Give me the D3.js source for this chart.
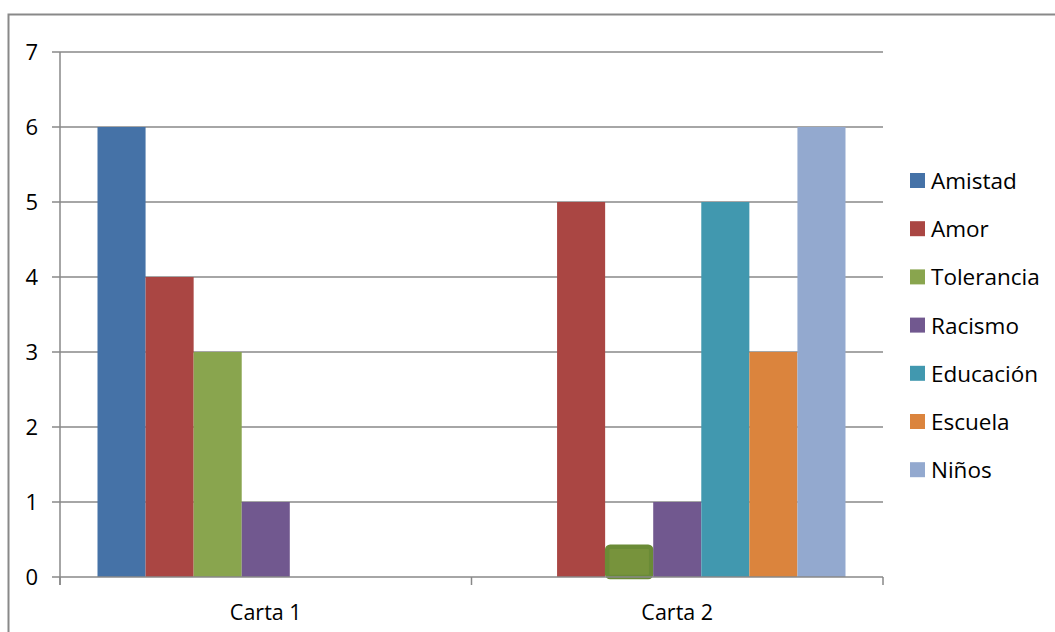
<!DOCTYPE html>
<html><head><meta charset="utf-8">
<script src="https://cdn.jsdelivr.net/npm/d3@7"></script>
<style>body{margin:0;background:#fff;}svg{display:block;}text{font-family:"Open Sans","Liberation Sans",sans-serif;fill:#000;}</style>
</head><body>
<svg id="c" width="1055" height="632"></svg>
<script>
const categories = ["Carta 1", "Carta 2"];
const seriesNames = ["Amistad", "Amor", "Tolerancia", "Racismo", "Educación", "Escuela", "Niños"];
const seriesColors = ["#4572A7", "#AA4643", "#89A54E", "#71588F", "#4198AF", "#DB843D", "#93A9CF"];
const amistad = [6, 0];
const amor = [4, 5];
const tolerancia = [3, 0.43];
const racismo = [1, 1];
const educacion = [0, 5];
const escuela = [0, 3];
const ninos = [0, 6];
const yTicks = [0, 1, 2, 3, 4, 5, 6, 7];

const seriesValues = [amistad, amor, tolerancia, racismo, educacion, escuela, ninos];
const svg = d3.select("#c");
const pLeft = 60, pRight = 883, pTop = 52, pBottom = 577;

svg.append("rect").attr("x", 8.5).attr("y", 14.5).attr("width", 1100).attr("height", 700)
  .attr("fill", "none").attr("stroke", "#898989").attr("stroke-width", 2);

const y = d3.scaleLinear().domain([0, 7]).range([pBottom, pTop]);
const x0 = d3.scaleBand().domain(categories).range([pLeft, pRight]).paddingInner(0).paddingOuter(0);
const x1 = d3.scaleBand().domain(seriesNames).range([37.5, x0.bandwidth() - 37.5]);

// gridlines
svg.append("g").selectAll("line").data(yTicks.filter(d => d > 0)).join("line")
  .attr("x1", pLeft - 8).attr("x2", pRight).attr("y1", d => y(d)).attr("y2", d => y(d))
  .attr("stroke", "#888").attr("stroke-width", 1.5);

// bars
const isHi = d => d.ci === 1 && d.si === 2;
const groups = svg.append("g").selectAll("g").data(categories).join("g")
  .attr("transform", d => `translate(${x0(d)},0)`);
groups.selectAll("rect").data((c, ci) => seriesNames.map((s, si) => ({s, si, ci, v: seriesValues[si][ci]})).filter(d => d.v > 0))
  .join("rect")
  .attr("x", d => x1(d.s) + (isHi(d) ? 2 : 0))
  .attr("width", d => x1.bandwidth() - (isHi(d) ? 4 : 0))
  .attr("y", d => y(d.v) + (isHi(d) ? 2 : 0))
  .attr("height", d => y(0) - y(d.v) - (isHi(d) ? 2 : 0))
  .attr("rx", d => isHi(d) ? 3 : 0)
  .attr("fill", d => isHi(d) ? "#77933C" : seriesColors[d.si])
  .attr("stroke", d => isHi(d) ? "#6A8B36" : "none")
  .attr("stroke-width", 4.5);

// axes lines
svg.append("line").attr("x1", pLeft).attr("x2", pLeft).attr("y1", pTop).attr("y2", pBottom + 8)
  .attr("stroke", "#888").attr("stroke-width", 1.5);
svg.append("line").attr("x1", pLeft - 8).attr("x2", pRight).attr("y1", pBottom).attr("y2", pBottom)
  .attr("stroke", "#888").attr("stroke-width", 1.5);
const catTicks = categories.map(c => x0(c)).concat([pRight]);
svg.append("g").selectAll("line").data(catTicks).join("line")
  .attr("x1", d => d).attr("x2", d => d).attr("y1", pBottom).attr("y2", pBottom + 8)
  .attr("stroke", "#888").attr("stroke-width", 1.5);

// y labels
svg.append("g").selectAll("text").data(yTicks).join("text")
  .attr("x", 38).attr("y", d => y(d) + 8).attr("text-anchor", "end")
  .style("font-size", "22px").text(d => d);

// category labels
svg.append("g").selectAll("text").data(categories).join("text")
  .attr("x", d => x0(d) + x0.bandwidth() / 2).attr("y", 620).attr("text-anchor", "middle")
  .style("font-size", "21.5px").text(d => d);

// legend
const lg = svg.append("g").selectAll("g").data(seriesNames).join("g")
  .attr("transform", (d, i) => `translate(910,${181 + i * 48.2})`);
lg.append("rect").attr("x", 0).attr("y", -8).attr("width", 15).attr("height", 15)
  .attr("fill", (d, i) => seriesColors[i]);
lg.append("text").attr("x", 21).attr("y", 8).style("font-size", "22.5px").text(d => d);
</script>
</body></html>
